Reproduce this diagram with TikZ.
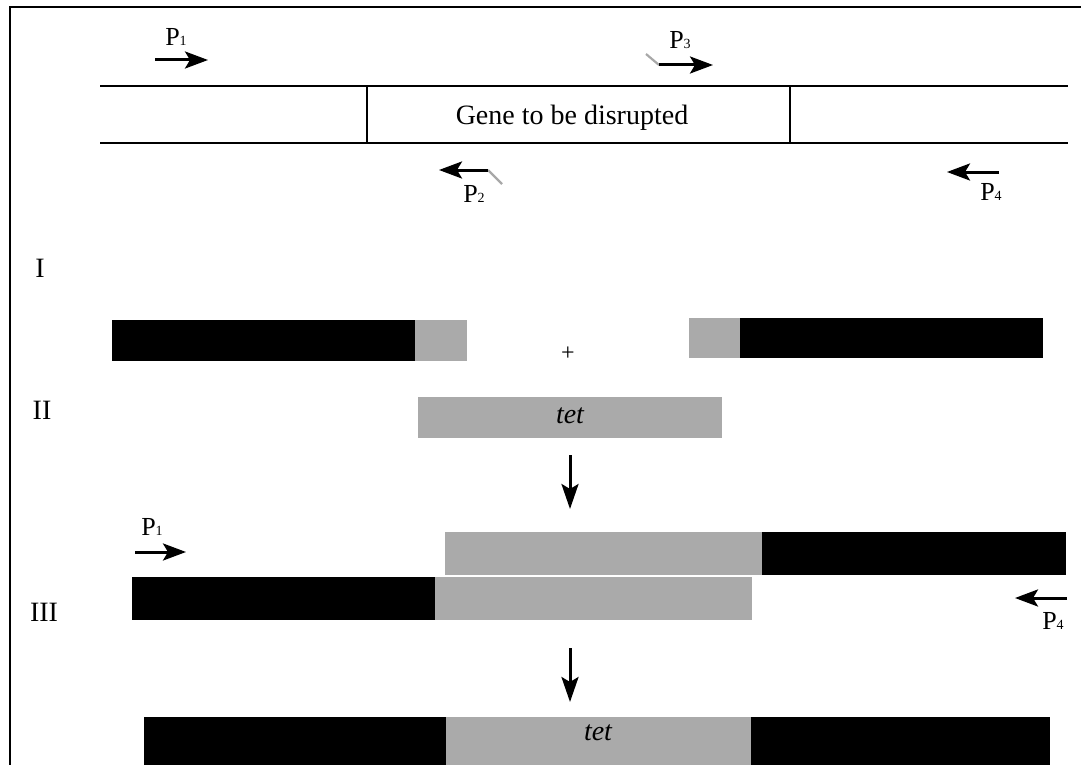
\documentclass[tikz,border=0pt]{standalone}
\usepackage{fontspec}
\setmainfont{Liberation Serif}
\usetikzlibrary{arrows.meta}
\definecolor{bargray}{HTML}{AAAAAA}
\definecolor{hookgray}{HTML}{A8A8A8}
\tikzset{
  blackbar/.style={fill=black, draw=none, inner sep=0pt, outer sep=0pt, anchor=north west},
  graybar/.style={fill=bargray, draw=none, inner sep=0pt, outer sep=0pt, anchor=north west},
  primer/.style={line width=3pt, -{Stealth[length=23pt,width=17pt,inset=5pt]}},
  hook/.style={hookgray, line width=2.2pt},
  plabel/.style={font=\fontsize{26}{28}\selectfont, inner sep=0pt},
  roman/.style={font=\fontsize{28}{30}\selectfont, inner sep=0pt},
  strand/.style={line width=2pt},
  bigarrow/.style={line width=3pt, -{Stealth[length=25pt,width=17pt,inset=5pt]}},
}
\newcommand{\Psub}[1]{P\raisebox{0pt}{\fontsize{14}{15}\selectfont #1}}
\begin{document}
\begin{tikzpicture}[x=1pt,y=-1pt]
\useasboundingbox (0,0) rectangle (1081,765);
% frame
\draw[line width=2pt] (1081,7) -- (10,7) -- (10,765);

% gene strip
\coordinate (tl) at (100,86);
\coordinate (tr) at (1068,86);
\coordinate (bl) at (100,143);
\coordinate (br) at (1068,143);
\coordinate (v1t) at (367,86);
\coordinate (v1b) at (367,143);
\coordinate (v2t) at (790,86);
\coordinate (v2b) at (790,143);
\draw[strand] (tl) -- (tr);
\draw[strand] (bl) -- (br);
\draw[strand] (v1t) -- (v1b);
\draw[strand] (v2t) -- (v2b);
\node[font=\fontsize{28}{30}\selectfont, inner sep=0pt] (gene) at (572,118) {Gene to be disrupted};

% primers top
\coordinate (p1s) at (155,60);
\coordinate (p1e) at (208,60);
\draw[primer] (p1s) -- (p1e);
\node[plabel] (lp1) at (176,37) {\Psub{1}};

\coordinate (p3h) at (646,54);
\coordinate (p3s) at (659,65);
\coordinate (p3e) at (713,65);
\draw[hook] (p3h) -- (p3s);
\draw[primer] (p3s) -- (p3e);
\node[plabel] (lp3) at (680,40) {\Psub{3}};

\coordinate (p2h) at (502,184);
\coordinate (p2s) at (488,170);
\coordinate (p2e) at (439,170);
\draw[hook] (p2h) -- (p2s);
\draw[primer] (p2s) -- (p2e);
\node[plabel] (lp2) at (474,194) {\Psub{2}};

\coordinate (p4s) at (999,172);
\coordinate (p4e) at (947,172);
\draw[primer] (p4s) -- (p4e);
\node[plabel] (lp4) at (991,192) {\Psub{4}};

% roman numerals
\node[roman] (rI) at (40,268) {I};
\node[roman] (rII) at (42,410) {II};
\node[roman] (rIII) at (44,612) {III};

% row I
\node[blackbar, minimum width=303pt, minimum height=41pt] (a1) at (112,320) {};
\node[graybar, minimum width=52pt, minimum height=41pt] (a2) at (415,320) {};
\node[graybar, minimum width=51pt, minimum height=40pt] (a3) at (689,318) {};
\node[blackbar, minimum width=303pt, minimum height=40pt] (a4) at (740,318) {};
\node[font=\fontsize{24}{26}\selectfont, inner sep=0pt] (plus) at (568,354) {+};

% row II
\node[graybar, minimum width=304pt, minimum height=41pt] (tet1) at (418,397) {};
\node[font=\fontsize{28}{30}\selectfont\itshape, inner sep=0pt] (tett1) at (570,416) {tet};

\coordinate (ar1s) at (570,455);
\coordinate (ar1e) at (570,509);
\draw[bigarrow] (ar1s) -- (ar1e);

% row III
\coordinate (q1s) at (135,552);
\coordinate (q1e) at (186,552);
\draw[primer] (q1s) -- (q1e);
\node[plabel] (lq1) at (152,527) {\Psub{1}};

\node[graybar, minimum width=317pt, minimum height=43pt] (u1) at (445,532) {};
\node[blackbar, minimum width=304pt, minimum height=43pt] (u2) at (762,532) {};
\node[blackbar, minimum width=303pt, minimum height=43pt] (l1) at (132,577) {};
\node[graybar, minimum width=317pt, minimum height=43pt] (l2) at (435,577) {};

\coordinate (q4s) at (1067,598);
\coordinate (q4e) at (1015,598);
\draw[primer] (q4s) -- (q4e);
\node[plabel] (lq4) at (1053,621) {\Psub{4}};

\coordinate (ar2s) at (570,648);
\coordinate (ar2e) at (570,702);
\draw[bigarrow] (ar2s) -- (ar2e);

% final product
\node[blackbar, minimum width=302pt, minimum height=50pt] (f1) at (144,717) {};
\node[graybar, minimum width=305pt, minimum height=50pt] (f2) at (446,717) {};
\node[blackbar, minimum width=299pt, minimum height=50pt] (f3) at (751,717) {};
\node[font=\fontsize{28}{30}\selectfont\itshape, inner sep=0pt] (tett2) at (598,733) {tet};
\end{tikzpicture}
\end{document}
